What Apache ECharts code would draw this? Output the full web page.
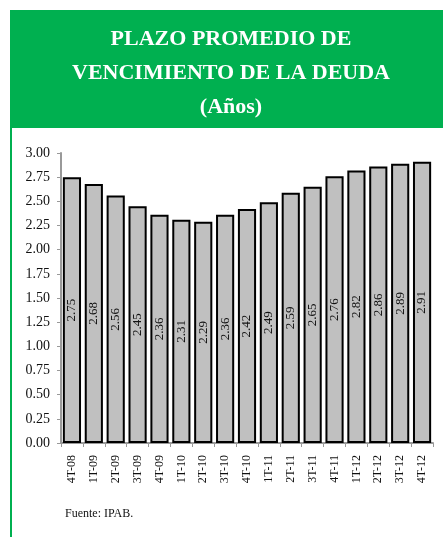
<!DOCTYPE html>
<html>
<head>
<meta charset="utf-8">
<script src="https://cdn.jsdelivr.net/npm/echarts@6/dist/echarts.min.js"></script>
<style>
  html, body { margin: 0; padding: 0; background: #fff; }
  #chart { width: 443px; height: 537px; }
</style>
</head>
<body>
<div id="chart"></div>
<script>
const categories = ['4T-08', '1T-09', '2T-09', '3T-09', '4T-09', '1T-10', '2T-10', '3T-10', '4T-10',
  '1T-11', '2T-11', '3T-11', '4T-11', '1T-12', '2T-12', '3T-12', '4T-12']
const plazo = [2.75, 2.68, 2.56, 2.45, 2.36, 2.31, 2.29, 2.36, 2.42,
  2.49, 2.59, 2.65, 2.76, 2.82, 2.86, 2.89, 2.91]

const serif = '"Liberation Serif", "Times New Roman", serif'
const green = '#00b050'

const chart = echarts.init(document.getElementById('chart'))

chart.setOption({
  animation: false,
  graphic: [
    { type: 'rect', shape: { x: 10, y: 10, width: 433, height: 118 }, style: { fill: green }, silent: true },
    { type: 'rect', shape: { x: 10, y: 128, width: 2, height: 409 }, style: { fill: green }, silent: true },
    {
      type: 'text',
      left: 65,
      top: 508,
      style: { text: 'Fuente: IPAB.', font: '12px ' + serif, fill: '#111' },
    },
  ],
  title: {
    text: 'PLAZO PROMEDIO DE\nVENCIMIENTO DE LA DEUDA\n(Años)',
    left: 226,
    textAlign: 'center',
    top: 17,
    textStyle: {
      color: '#fff',
      fontFamily: serif,
      fontWeight: 'bold',
      fontSize: 22,
      lineHeight: 34,
    },
  },
  grid: {
    left: 61,
    right: 10,
    top: 153,
    bottom: 94,
  },
  xAxis: {
    type: 'category',
    data: categories,
    axisLine: { lineStyle: { color: '#999', width: 2 } },
    axisTick: { show: true, length: 4, lineStyle: { color: '#999' } },
    axisLabel: {
      rotate: 90,
      margin: 12,
      color: '#111',
      fontFamily: serif,
      fontSize: 12,
    },
  },
  yAxis: {
    type: 'value',
    min: 0,
    max: 3,
    interval: 0.25,
    axisLine: { show: true, lineStyle: { color: '#999', width: 2 } },
    axisTick: { show: true, length: 4, lineStyle: { color: '#999' } },
    splitLine: { show: false },
    axisLabel: {
      margin: 11,
      color: '#111',
      fontFamily: serif,
      fontSize: 14,
      formatter: (v) => v.toFixed(2),
    },
  },
  series: [
    {
      type: 'bar',
      data: plazo,
      barCategoryGap: '17%',
      itemStyle: {
        color: '#c0c0c0',
        borderColor: '#000',
        borderWidth: 2,
      },
      label: {
        show: true,
        position: 'inside',
        rotate: 90,
        color: '#111',
        fontFamily: serif,
        fontSize: 13,
        formatter: (p) => p.value.toFixed(2),
      },
    },
  ],
})
</script>
</body>
</html>
